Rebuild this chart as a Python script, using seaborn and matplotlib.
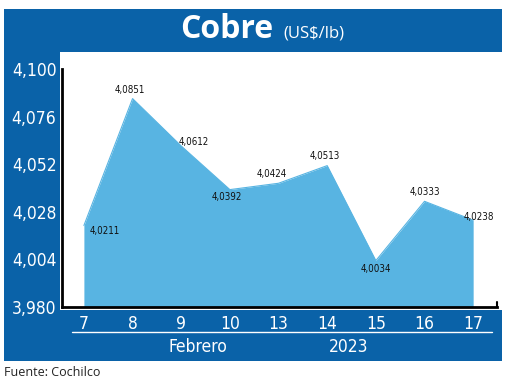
import numpy as np
import pandas as pd
import seaborn as sns
import matplotlib.pyplot as plt
from matplotlib.patches import Rectangle
from matplotlib.lines import Line2D

# Data
days = ["7", "8", "9", "10", "13", "14", "15", "16", "17"]
prices = [4.0211, 4.0851, 4.0612, 4.0392, 4.0424, 4.0513, 4.0034, 4.0333, 4.0238]
value_labels = ["4,0211", "4,0851", "4,0612", "4,0392", "4,0424", "4,0513", "4,0034", "4,0333", "4,0238"]
y_ticks = [3.980, 4.004, 4.028, 4.052, 4.076, 4.100]
y_tick_labels = ["3,980", "4,004", "4,028", "4,052", "4,076", "4,100"]

df = pd.DataFrame({"day": days, "price": prices, "pos": np.arange(len(days))})

DARK = "#0a62a8"
LIGHT = "#58b4e2"
W, H = 520, 382

sns.set_theme(style="white")
plt.rcParams["font.family"] = ["DejaVu Sans"]
plt.rcParams["font.stretch"] = "condensed"

fig = plt.figure(figsize=(W / 100, H / 100), dpi=100)
fig.patch.set_facecolor("white")


def box(x, y, w, h, color):
    # pixel coords, origin top-left
    fig.add_artist(Rectangle((x / W, 1 - (y + h) / H), w / W, h / H,
                             transform=fig.transFigure, facecolor=color,
                             edgecolor="none", zorder=0))


# blue frame
box(4, 9, 498, 43, DARK)
box(4, 52, 56, 260, DARK)
box(4, 310, 498, 51, DARK)

# title
fig.text(273 / W, 1 - 30 / H, "Cobre", ha="right", va="center", color="white",
         fontsize=23, fontweight="bold", fontstretch="normal",
         family=["Open Sans", "DejaVu Sans"])
fig.text(283 / W, 1 - 33 / H, "(US$/lb)", ha="left", va="center", color="white",
         fontsize=12, fontstretch="normal", family=["Open Sans", "DejaVu Sans"])

# plot area
ax = fig.add_axes([62 / W, 1 - 307 / H, (497 - 62) / W, (307 - 52) / H])
ax.set_facecolor("none")
ax.fill_between(df["pos"], df["price"], 3.980, color=LIGHT, linewidth=0, zorder=1)
sns.lineplot(data=df, x="pos", y="price", color=LIGHT, linewidth=0.8, ax=ax, zorder=1)

ax.set_xlim(-0.45, 8.49)
ax.set_ylim(3.980, 4.1086)

# value labels (pixel offsets from each point)
offsets = [(6, -5, "left"), (-3, 9, "center"), (13, 4, "center"), (-3, -7, "center"),
           (-7, 9, "center"), (-2, 10, "center"), (0, -8, "center"), (0, 9, "center"),
           (6, 3, "center")]
for (px, py, ha), xp, yv, lab in zip(offsets, df["pos"], df["price"], value_labels):
    ax.annotate(lab, (xp, yv), xytext=(px, py), textcoords="offset pixels",
                ha=ha, va="center", fontsize=7, color="#111111", zorder=3,
                fontstretch="condensed")

ax.set_yticks(y_ticks)
ax.set_yticklabels(y_tick_labels, fontstretch="condensed")
ax.set_xticks(df["pos"])
ax.set_xticklabels(days, fontstretch="condensed")
ax.tick_params(axis="y", direction="in", length=7, width=2, color="black",
               labelcolor="white", labelsize=12.5, pad=4)
ax.tick_params(axis="x", length=0, labelcolor="white", labelsize=12.5, pad=6)
ax.set_xlabel("")
ax.set_ylabel("")

for s in ["top", "right"]:
    ax.spines[s].set_visible(False)
ax.spines["left"].set_bounds(3.980, 4.100)
for s in ["left", "bottom"]:
    ax.spines[s].set_color("black")
    ax.spines[s].set_linewidth(2)
ax.add_line(Line2D([1, 1], [0, 0.02], transform=ax.transAxes, color="black",
                   linewidth=1.5, clip_on=False))

# date band below axis
fig.add_artist(Line2D([72 / W, 492 / W], [1 - 332 / H, 1 - 332 / H],
                      transform=fig.transFigure, color="white", linewidth=1))
fig.text(198 / W, 1 - 347 / H, "Febrero", ha="center", va="center",
         color="white", fontsize=12.5, fontstretch="condensed")
fig.text(349 / W, 1 - 347 / H, "2023", ha="center", va="center",
         color="white", fontsize=12.5, fontstretch="condensed")

fig.text(4 / W, 1 - 373 / H, "Fuente: Cochilco", ha="left", va="center",
         color="#222222", fontsize=9, fontstretch="normal",
         family=["Open Sans", "DejaVu Sans"])

fig.savefig("out.png", dpi=100, facecolor="white")
